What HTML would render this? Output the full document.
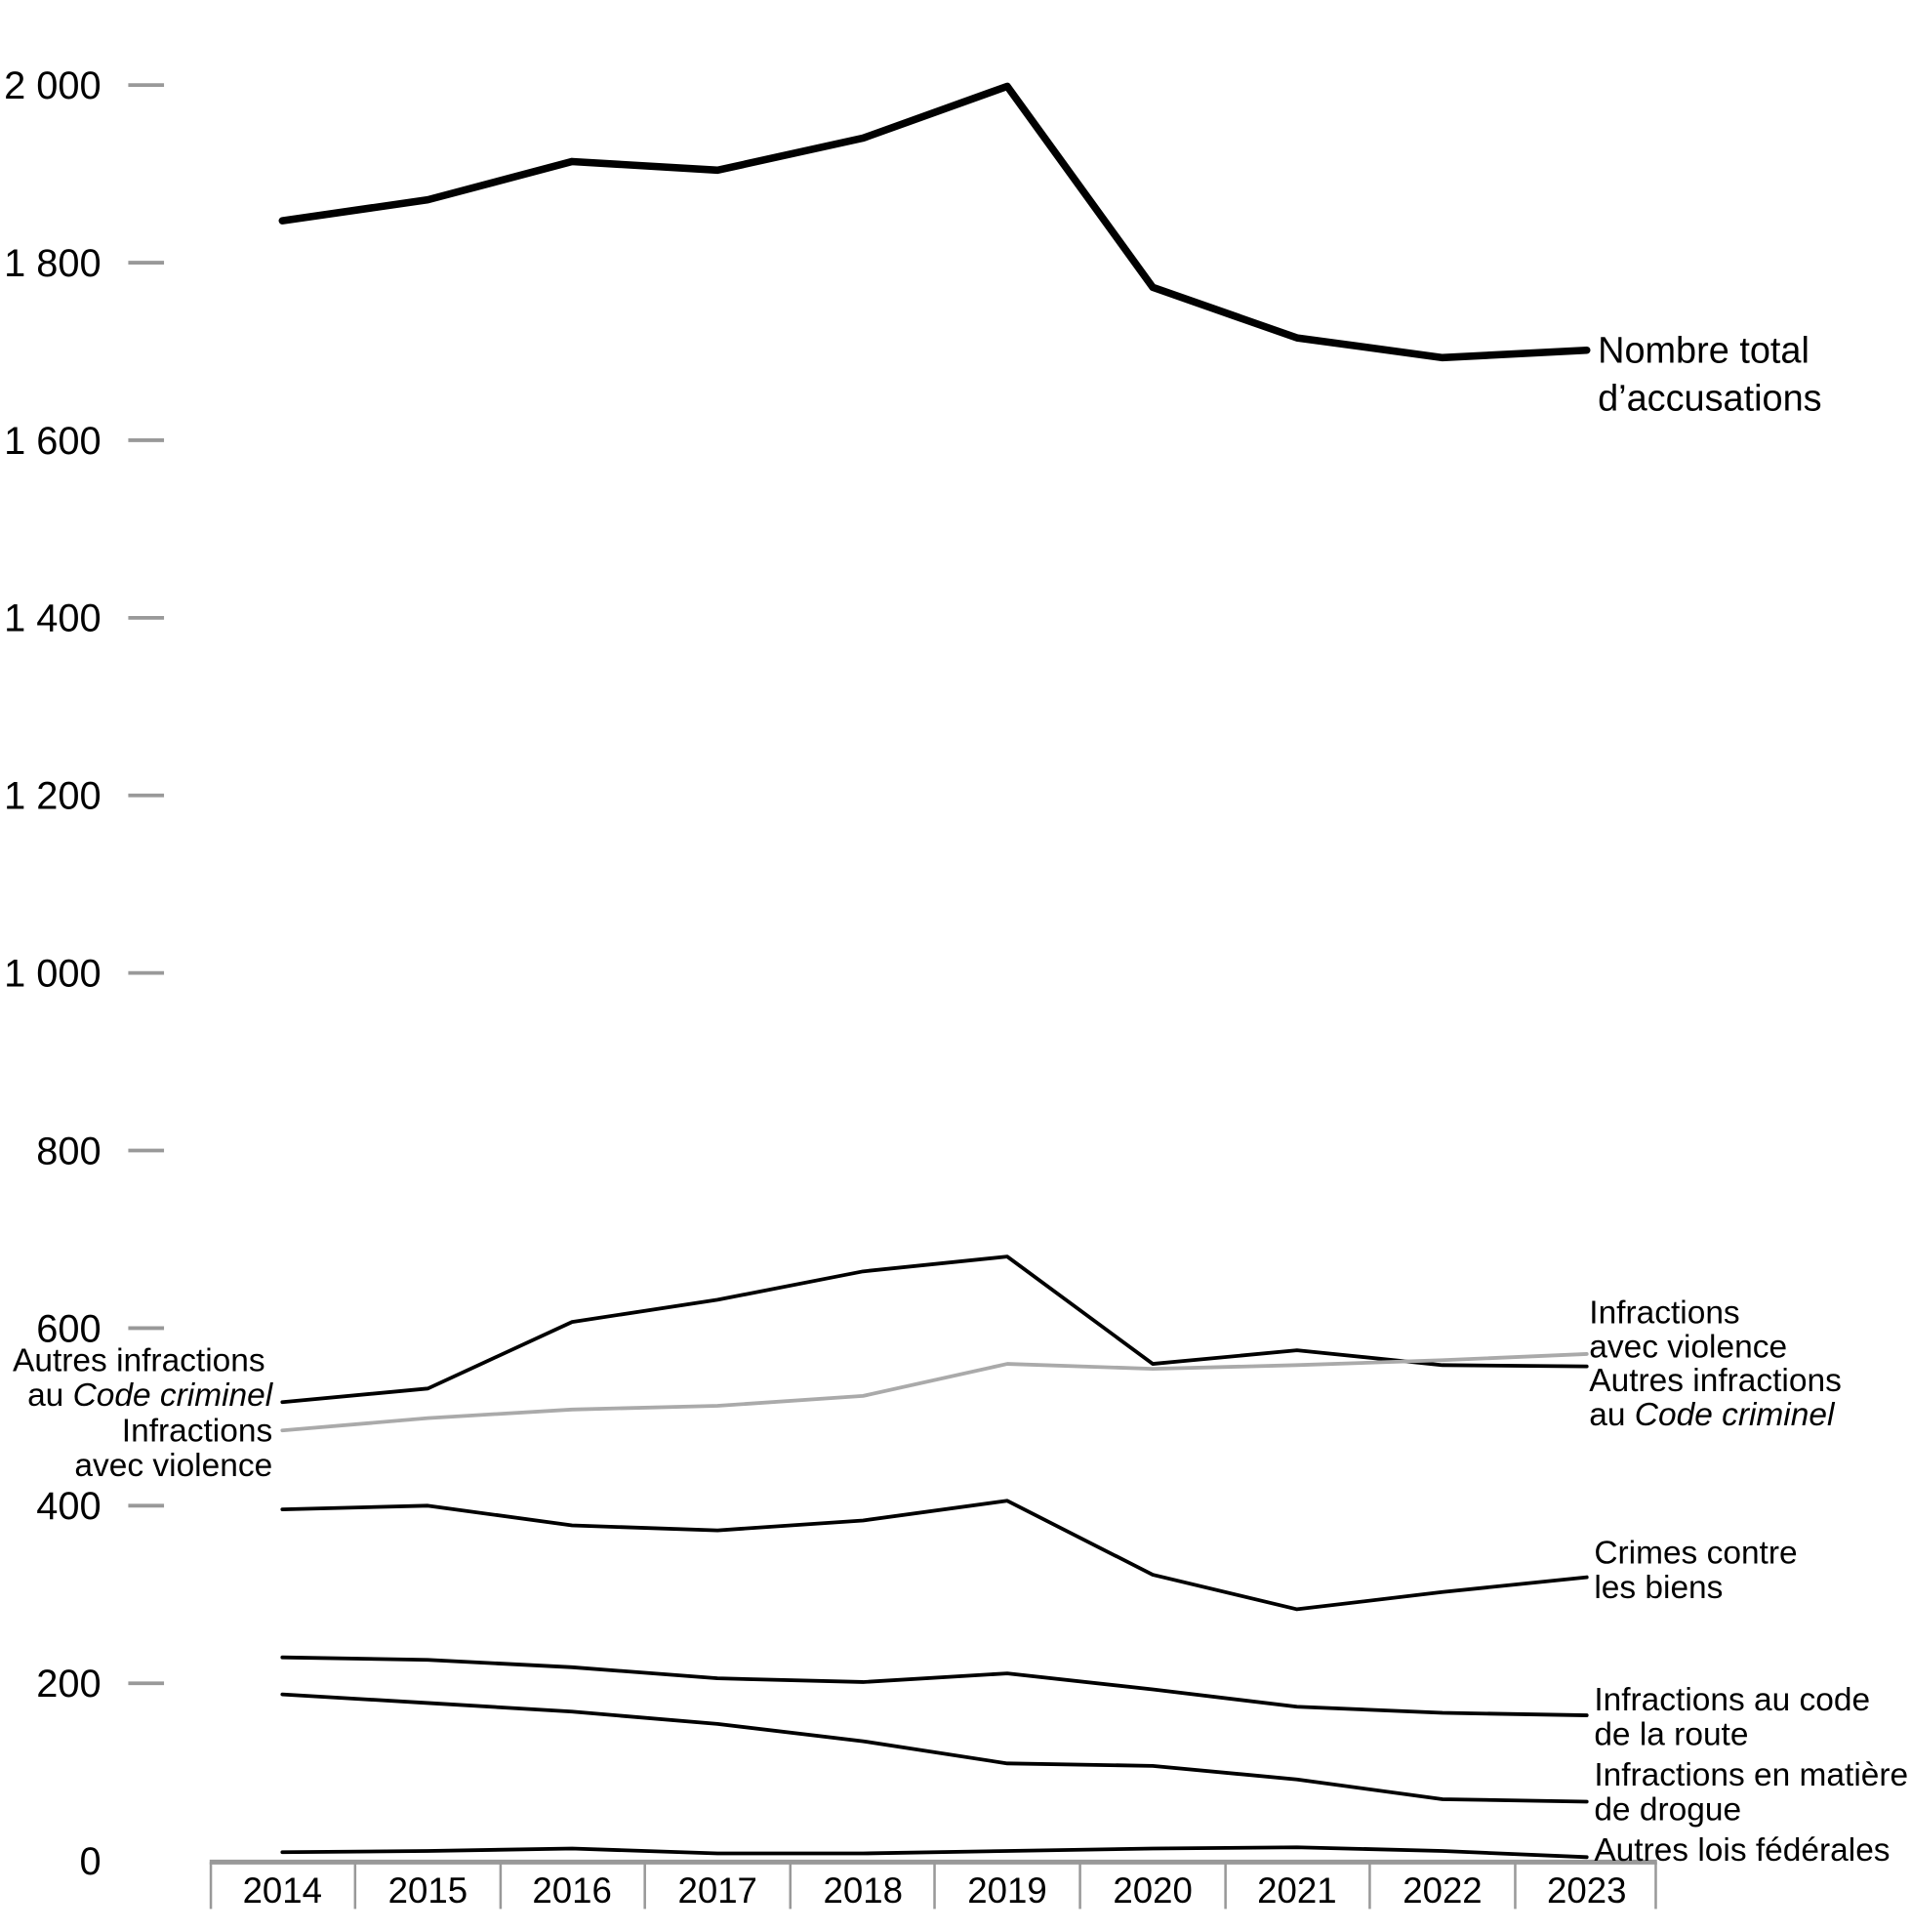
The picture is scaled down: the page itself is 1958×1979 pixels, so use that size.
<!DOCTYPE html>
<html><head><meta charset="utf-8"><style>
html,body{margin:0;padding:0;background:#fff;}
svg{display:block;}
text{font-family:"Liberation Sans",sans-serif;fill:#000;}
</style></head><body>
<svg width="1958" height="1979" viewBox="0 0 1550 1566.7" xmlns="http://www.w3.org/2000/svg">
<g font-size="31.5" text-anchor="end">
<text x="82" y="80">2 000</text>
<text x="82" y="224">1 800</text>
<text x="82" y="368">1 600</text>
<text x="82" y="512">1 400</text>
<text x="82" y="656">1 200</text>
<text x="82" y="800">1 000</text>
<text x="82" y="944">800</text>
<text x="82" y="1088">600</text>
<text x="82" y="1232">400</text>
<text x="82" y="1376">200</text>
<text x="82" y="1520">0</text>
</g>
<g stroke="#999" stroke-width="3">
<line x1="104" x2="133" y1="69" y2="69"/><line x1="104" x2="133" y1="213" y2="213"/>
<line x1="104" x2="133" y1="357" y2="357"/><line x1="104" x2="133" y1="501" y2="501"/>
<line x1="104" x2="133" y1="645" y2="645"/><line x1="104" x2="133" y1="789" y2="789"/>
<line x1="104" x2="133" y1="933" y2="933"/><line x1="104" x2="133" y1="1077" y2="1077"/>
<line x1="104" x2="133" y1="1221" y2="1221"/><line x1="104" x2="133" y1="1365" y2="1365"/>
</g>
<g stroke="#999" stroke-width="2" fill="none">
<line x1="170" x2="1344" y1="1510" y2="1510" stroke-width="4"/>
<line x1="171" x2="171" y1="1510" y2="1548"/><line x1="288" x2="288" y1="1510" y2="1548"/>
<line x1="406" x2="406" y1="1510" y2="1548"/><line x1="523" x2="523" y1="1510" y2="1548"/>
<line x1="641" x2="641" y1="1510" y2="1548"/><line x1="758" x2="758" y1="1510" y2="1548"/>
<line x1="876" x2="876" y1="1510" y2="1548"/><line x1="994" x2="994" y1="1510" y2="1548"/>
<line x1="1111" x2="1111" y1="1510" y2="1548"/><line x1="1229" x2="1229" y1="1510" y2="1548"/>
<line x1="1343" x2="1343" y1="1510" y2="1548"/>
</g>
<g font-size="29" text-anchor="middle">
<text x="229" y="1543">2014</text><text x="347" y="1543">2015</text><text x="464" y="1543">2016</text>
<text x="582" y="1543">2017</text><text x="700" y="1543">2018</text><text x="817" y="1543">2019</text>
<text x="935" y="1543">2020</text><text x="1052" y="1543">2021</text><text x="1170" y="1543">2022</text>
<text x="1287" y="1543">2023</text>
</g>
<g fill="none" stroke-linejoin="round" stroke-linecap="round">
<polyline stroke="#000" stroke-width="6" points="229,179 347,162 464,131 582,138 700,112 817,70 935,233 1052,274 1170,290 1287,284"/>
<polyline stroke="#000" stroke-width="3" points="229,1137 347,1126 464,1072 582,1054 700,1031 817,1019 935,1106 1052,1095 1170,1107 1287,1108"/>
<polyline stroke="#aaa" stroke-width="3" points="229,1160 347,1150 464,1143 582,1140 700,1132 817,1106 935,1110 1052,1107 1170,1103 1287,1098"/>
<polyline stroke="#000" stroke-width="3" points="229,1224 347,1221 464,1237 582,1241 700,1233 817,1217 935,1277 1052,1305 1170,1291 1287,1279"/>
<polyline stroke="#000" stroke-width="3" points="229,1344 347,1346 464,1352 582,1361 700,1364 817,1357 935,1370 1052,1384 1170,1389 1287,1391"/>
<polyline stroke="#000" stroke-width="3" points="229,1374 347,1381 464,1388 582,1398 700,1412 817,1430 935,1432 1052,1443 1170,1459 1287,1461"/>
<polyline stroke="#000" stroke-width="3" points="229,1502 347,1501 464,1499 582,1503 700,1503 817,1501 935,1499 1052,1498 1170,1501 1287,1506"/>
</g>
<g font-size="30">
<text x="1296" y="294">Nombre total</text>
<text x="1296" y="333">d’accusations</text>
</g>
<g font-size="26.5">
<text x="1289" y="1073">Infractions</text>
<text x="1289" y="1101">avec violence</text>
<text x="1289" y="1128">Autres infractions</text>
<text x="1289" y="1156">au <tspan font-style="italic">Code criminel</tspan></text>
<text x="1293" y="1268">Crimes contre</text>
<text x="1293" y="1296">les biens</text>
<text x="1293" y="1387">Infractions au code</text>
<text x="1293" y="1415">de la route</text>
<text x="1293" y="1448">Infractions en matière</text>
<text x="1293" y="1476">de drogue</text>
<text x="1293" y="1509">Autres lois fédérales</text>
</g>
<g font-size="26.5" text-anchor="end">
<text x="215" y="1112">Autres infractions</text>
<text x="221" y="1140">au <tspan font-style="italic">Code criminel</tspan></text>
<text x="221" y="1169">Infractions</text>
<text x="221" y="1197">avec violence</text>
</g>
</svg>
</body></html>
